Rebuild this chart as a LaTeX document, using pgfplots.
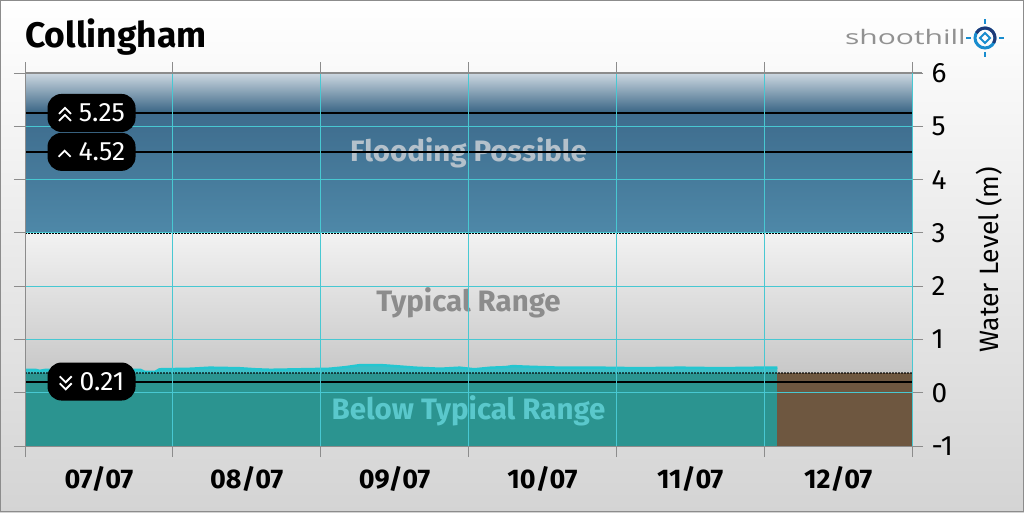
\documentclass[border=0pt]{standalone}
\usepackage{pgfplots}
\pgfplotsset{compat=1.18}
\usepackage{fontspec}
\setmainfont{Fira Sans}
\newfontfamily\logofont{Open Sans}
\definecolor{bgbot}{RGB}{212,212,212}
\definecolor{floodtop}{RGB}{205,216,225}
\definecolor{flooddark}{RGB}{56,100,132}
\definecolor{floodmid}{RGB}{62,108,141}
\definecolor{floodlow}{RGB}{78,136,168}
\definecolor{typtop}{RGB}{242,242,242}
\definecolor{typbot}{RGB}{200,200,200}
\definecolor{teal1}{RGB}{43,148,144}
\definecolor{brown1}{RGB}{110,87,64}
\definecolor{datafill}{RGB}{62,190,198}
\definecolor{dataline}{RGB}{36,198,208}
\definecolor{gridcyan}{RGB}{72,200,210}
\definecolor{tickgray}{RGB}{140,140,140}
\definecolor{floodtxt}{RGB}{180,193,203}
\definecolor{typtxt}{RGB}{140,140,140}
\definecolor{belowtxt}{RGB}{90,200,204}
\definecolor{logogray}{RGB}{145,145,145}
\definecolor{logoblue}{RGB}{24,140,206}
\definecolor{logonavy}{RGB}{30,58,120}
\tikzset{chev/.style={white,line width=1.8pt,sharp corners,line join=miter}}
\newcommand{\chevup}{\tikz[baseline=-1pt,sharp corners]\draw[chev] (0,3pt)--(6pt,9pt)--(12pt,3pt);}
\newcommand{\chevupup}{\tikz[baseline=-1pt,sharp corners]{\draw[chev] (0,0)--(6pt,6pt)--(12pt,0); \draw[chev] (0,7pt)--(6pt,13pt)--(12pt,7pt);}}
\newcommand{\chevdndn}{\tikz[baseline=-1pt,sharp corners]{\draw[chev] (0,6pt)--(6pt,0)--(12pt,6pt); \draw[chev] (0,13pt)--(6pt,7pt)--(12pt,13pt);}}
\begin{document}
\begin{tikzpicture}[x=1pt,y=1pt]
\shade[top color=white, bottom color=bgbot] (0,0) rectangle (1024,512);
\draw[tickgray, line width=1pt] (0.5,0.5) rectangle (1023.5,511.5);
\node[anchor=base west, inner sep=0pt, font=\fontsize{35.5}{38}\selectfont\bfseries] at (25,464) {Collingham};
% logo
\node[anchor=base east, inner sep=0pt, text=logogray, font=\logofont\fontsize{20}{24}\selectfont] at (966,467) {\scalebox{1.5}[1]{shoothill}};
\draw[line width=3pt, logoblue] (985,474) circle (10);
\draw[line width=3pt, logonavy] (985,474) ++(-30:10) arc (-30:150:10);
\draw[line width=1.8pt, logoblue] (985,474) ++(0,-5) -- ++(5,5) -- ++(-5,5) -- ++(-5,-5) -- cycle;
\foreach \a in {0,90,180,270} {\draw[line width=1.5pt, logoblue] (985,474) ++(\a:14) -- ++(\a:5);}
\draw[tickgray, line width=1pt] (25,439) -- (922,439);
\begin{axis}[
  at={(25pt,66pt)}, anchor=south west,
  width=887pt, height=373pt, scale only axis,
  xmin=0, xmax=6, ymin=-1, ymax=6,
  axis on top,
  axis line style={draw=tickgray, line width=1pt},
  grid=major, grid style={gridcyan, line width=0.9pt},
  xtick={0,...,6}, xticklabels={},
  extra x ticks={0.5,1.5,2.5,3.5,4.5,5.5},
  extra x tick labels={07/07,08/07,09/07,10/07,11/07,12/07},
  extra x tick style={major tick length=0pt, grid=none,
     tick label style={font=\fontsize{27}{29}\selectfont\bfseries, yshift=-17pt}},
  tick align=outside, major tick length=11pt,
  tick style={tickgray, line width=1pt},
  ytick={-1,0,1,2,3,4,5,6}, yticklabels={-1,0,1,2,3,4,5,6},
  yticklabel pos=right,
  y tick label style={font=\fontsize{28}{30}\selectfont, xshift=5pt},
  ylabel={Water Level (m)},
  ylabel style={font=\fontsize{26.5}{30}\selectfont, yshift=-16pt},
  clip=true,
]
% bands
\addplot[draw=none, top color=floodtop, bottom color=flooddark] coordinates {(0,5.25) (6,5.25) (6,6) (0,6)} -- cycle;
\addplot[draw=none, top color=floodmid, bottom color=floodlow] coordinates {(0,3) (6,3) (6,5.25) (0,5.25)} -- cycle;
\addplot[draw=none, top color=typtop, bottom color=typbot] coordinates {(0,0.37) (6,0.37) (6,3) (0,3)} -- cycle;
\addplot[draw=none, fill=teal1] coordinates {(0,-1) (6,-1) (6,0.37) (0,0.37)} -- cycle;
\addplot[draw=none, fill=brown1] coordinates {(5.09,-1) (6,-1) (6,0.37) (5.09,0.37)} -- cycle;
% observed water level
\addplot[draw=none, fill=datafill] coordinates {
(0,0.37) (0,0.43) (0.07,0.43) (0.10,0.41) (0.14,0.43) (0.78,0.43) (0.81,0.39) (0.88,0.39) (0.91,0.44)
(1.12,0.45) (1.25,0.47) (1.45,0.46) (1.56,0.44) (1.66,0.43) (1.86,0.44) (2.06,0.45) (2.17,0.48)
(2.27,0.52) (2.40,0.52) (2.50,0.50) (2.64,0.47) (2.81,0.45) (2.94,0.47) (3.04,0.44) (3.15,0.47)
(3.25,0.48) (3.30,0.50) (3.38,0.49) (3.62,0.47) (3.89,0.47) (4.16,0.46) (4.43,0.47) (4.70,0.46)
(4.97,0.47) (5.09,0.47) (5.09,0.37)} -- cycle;
\addplot[dataline, line width=2.5pt] coordinates {
(0,0.43) (0.07,0.43) (0.10,0.41) (0.14,0.43) (0.78,0.43) (0.81,0.39) (0.88,0.39) (0.91,0.44)
(1.12,0.45) (1.25,0.47) (1.45,0.46) (1.56,0.44) (1.66,0.43) (1.86,0.44) (2.06,0.45) (2.17,0.48)
(2.27,0.52) (2.40,0.52) (2.50,0.50) (2.64,0.47) (2.81,0.45) (2.94,0.47) (3.04,0.44) (3.15,0.47)
(3.25,0.48) (3.30,0.50) (3.38,0.49) (3.62,0.47) (3.89,0.47) (4.16,0.46) (4.43,0.47) (4.70,0.46)
(4.97,0.47) (5.09,0.47)};
% band boundaries
\addplot[black, line width=1.5pt, dash pattern=on 1.5pt off 1.5pt] coordinates {(0,3) (6,3)};
\addplot[black, opacity=0.6, line width=1.5pt, dash pattern=on 1.5pt off 1.5pt] coordinates {(0,0.37) (6,0.37)};
% band labels
\node[text=floodtxt, font=\fontsize{29.5}{32}\selectfont\bfseries] at (axis cs:3,4.50) {Flooding Possible};
\node[text=typtxt, font=\fontsize{29.5}{32}\selectfont\bfseries] at (axis cs:3,1.68) {Typical Range};
\node[text=belowtxt, font=\fontsize{29.5}{32}\selectfont\bfseries] at (axis cs:3,-0.34) {Below Typical Range};
% thresholds
\addplot[black, line width=2pt] coordinates {(0,5.25) (6,5.25)};
\addplot[black, line width=2pt] coordinates {(0,4.52) (6,4.52)};
\addplot[black, line width=2pt] coordinates {(0,0.21) (6,0.21)};
\coordinate (t1) at (axis cs:0.45,5.25);
\coordinate (t2) at (axis cs:0.45,4.52);
\coordinate (t3) at (axis cs:0.45,0.21);
\end{axis}
\draw[gridcyan, line width=1pt] (912,66) -- (912,439);
\foreach \c/\s/\v in {t1/\chevupup/5.25, t2/\chevup/4.52, t3/\chevdndn/0.21} {
  \node[fill=black, rounded corners=14pt, minimum width=88pt, minimum height=38pt, inner sep=0pt,
        text=white, font=\fontsize{26.5}{28}\selectfont] at (\c) {\s\hspace{7pt}\v};
}
\end{tikzpicture}
\end{document}
